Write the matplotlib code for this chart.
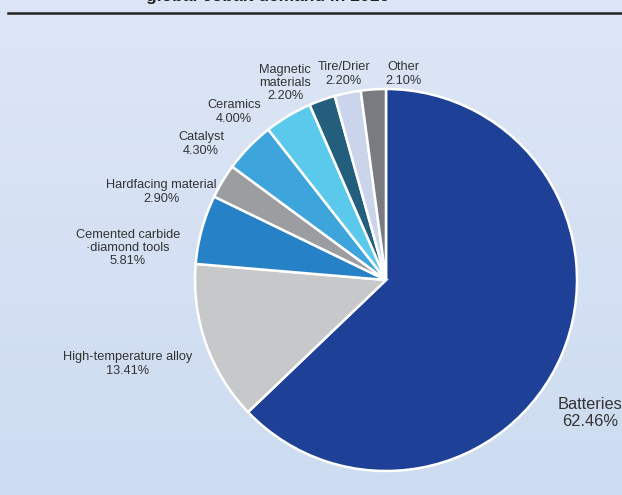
import numpy as np
import matplotlib
matplotlib.use("Agg")
import matplotlib.pyplot as plt
from matplotlib.lines import Line2D

plt.rcParams['font.family'] = ['Liberation Sans', 'DejaVu Sans']

title = "global cobalt demand in 2016"
labels = ["Batteries", "High-temperature alloy", "Cemented carbide\n\u00b7diamond tools",
          "Hardfacing material", "Catalyst", "Ceramics", "Magnetic\nmaterials",
          "Tire/Drier", "Other"]
shares = [62.46, 13.41, 5.81, 2.90, 4.30, 4.00, 2.20, 2.20, 2.10]
colors = ["#1e4197", "#c7c8ca", "#2781c7", "#9b9da1", "#3ea4dc", "#5bc9ec",
          "#235f7d", "#cad5ec", "#797b80"]

# label centres in pixels (x, y from top)
label_pos = [(590, 413), (128, 364), (128, 248), (161, 192), (201, 144),
             (234, 112), (285, 83), (344, 74), (403, 74)]

W, H = 622, 495
fig = plt.figure(figsize=(W / 100, H / 100), dpi=100)

# background gradient
bg = fig.add_axes([0, 0, 1, 1])
grad = np.linspace(0, 1, 256).reshape(-1, 1)
top = np.array([0xdd, 0xe6, 0xf6]) / 255
bot = np.array([0xcd, 0xdc, 0xf1]) / 255
img = top + (bot - top) * grad[..., None]
bg.imshow(img, aspect='auto', extent=[0, 1, 0, 1])
bg.set_axis_off()

# pie
cx, cy, r = 386, 280, 191
ax = fig.add_axes([(cx - r) / W, (H - cy - r) / H, 2 * r / W, 2 * r / H])
ax.pie(shares, colors=colors, startangle=90, counterclock=False, radius=1,
       wedgeprops=dict(edgecolor='white', linewidth=1.8))
ax.set_xlim(-1, 1)
ax.set_ylim(-1, 1)
ax.set_axis_off()

for i, (lab, val) in enumerate(zip(labels, shares)):
    x, y = label_pos[i]
    size = 11.8 if i == 0 else 9.2
    fig.text(x / W, 1 - y / H, f"{lab}\n{val:.2f}%", ha='center', va='center',
             fontsize=size, color='#333333', linespacing=1.12)

# title, mostly clipped at the top edge (as in the reference)
fig.text(268 / W, 1 - 1.5 / H, title, ha='center', va='baseline',
         fontsize=12.5, fontweight='bold', color='#222222')
fig.add_artist(Line2D([8 / W, 1], [1 - 13 / H, 1 - 13 / H], color='#222222',
                      linewidth=1.8, transform=fig.transFigure))

fig.savefig("out.png", dpi=100)
